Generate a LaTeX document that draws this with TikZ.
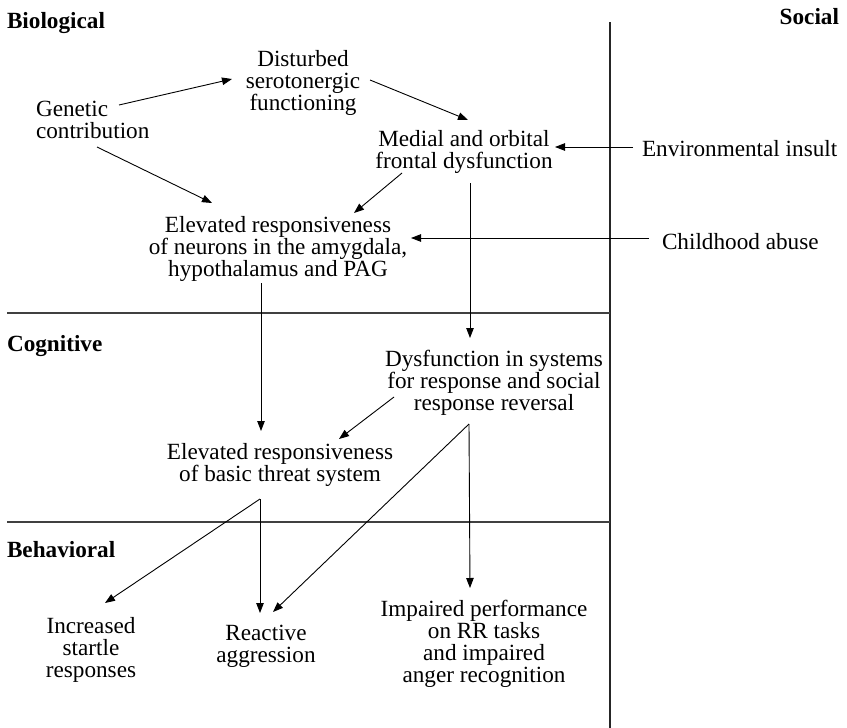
\documentclass[tikz,border=0pt]{standalone}
\usepackage{fontspec}
\setmainfont{Liberation Serif}
\usetikzlibrary{arrows.meta}
\begin{document}
\begin{tikzpicture}[x=1pt,y=-1pt,
  every node/.style={inner sep=0pt, outer sep=0pt},
  txt/.style={font=\fontsize{23.2}{21.7}\selectfont},
  % the base anchor of a multi-line node sits on its last line
  box/.style={txt, align=center, anchor=base},
  lbox/.style={txt, align=left, anchor=base west},
  level/.style={font=\fontsize{23.2}{22}\selectfont\bfseries},
  arr/.style={-{Triangle[length=10pt,width=7.5pt]}, line width=0.9pt},
  divider/.style={line width=1.2pt, black!75},
  spine/.style={line width=2.2pt, black!85}]

\useasboundingbox (0,0) rectangle (847,728);

% frame: social column and the three levels
\draw[spine] (610,22) -- (610,728);
\draw[divider] (7,313) -- (610,313);
\draw[divider] (7,522) -- (610,522);

\node[level, anchor=base west] (bio) at (7,28) {Biological};
\node[level, anchor=base east] (soc) at (839,24) {Social};
\node[level, anchor=base west] (cog) at (7,351) {Cognitive};
\node[level, anchor=base west] (beh) at (7,557) {Behavioral};

% factors
\node[lbox] (genetic) at (36,138) {Genetic\\contribution};
\node[box] (sero) at (303,110) {Disturbed\\serotonergic\\functioning};
\node[box] (medial) at (464,168) {Medial and orbital\\frontal dysfunction};
\node[box] (amyg) at (278,276) {Elevated responsiveness\\of neurons in the amygdala,\\hypothalamus and PAG};
\node[lbox] (env) at (642,156) {Environmental insult};
\node[lbox] (abuse) at (662,249) {Childhood abuse};
\node[box] (dysf) at (494,410) {Dysfunction in systems\\for response and social\\response reversal};
\node[box] (threat) at (280,481) {Elevated responsiveness\\of basic threat system};
\node[box] (startle) at (91,677) {Increased\\startle\\responses};
\node[box] (reactive) at (266,662) {Reactive\\aggression};
\node[box] (impaired) at (484,682) {Impaired performance\\on RR tasks\\and impaired\\anger recognition};

% branch points below the cognitive factors
\coordinate (tsplit) at ([shift={(-20,18)}]threat.base);
\coordinate (dsplit) at ([shift={(-25,14)}]dysf.base);

% connectors
\draw[arr] ([shift={(83,-33)}]genetic.base west) -- ([shift={(-71,-31)}]sero.base);
\draw[arr] ([shift={(61,9)}]genetic.base west) -- ([shift={(-66,-73)}]amyg.base);
\draw[arr] ([shift={(67,-30)}]sero.base) -- ([shift={(4,-48)}]medial.base);
\draw[arr] ([shift={(-62,5)}]medial.base) -- ([shift={(76,-63)}]amyg.base);
\draw[arr] ([shift={(-9,-9)}]env.base west) -- ([shift={(91,-21)}]medial.base);
\draw[arr] ([shift={(-13,-11)}]abuse.base west) -- ([shift={(133,-38)}]amyg.base);
\draw[arr] ([shift={(6,15)}]medial.base) -- ([shift={(-24,-72)}]dysf.base);
\draw[arr] ([shift={(-17,7)}]amyg.base) -- ([shift={(-19,-50)}]threat.base);
\draw[arr] ([shift={(-100,-13)}]dysf.base) -- ([shift={(59,-42)}]threat.base);
\draw[arr] (tsplit) -- ([shift={(14,-74)}]startle.base);
\draw[arr] (tsplit) -- ([shift={(-6,-49)}]reactive.base);
\draw[arr] (dsplit) -- ([shift={(7,-50)}]reactive.base);
\draw[arr] (dsplit) -- ([shift={(-14,-94)}]impaired.base);

\end{tikzpicture}
\end{document}
